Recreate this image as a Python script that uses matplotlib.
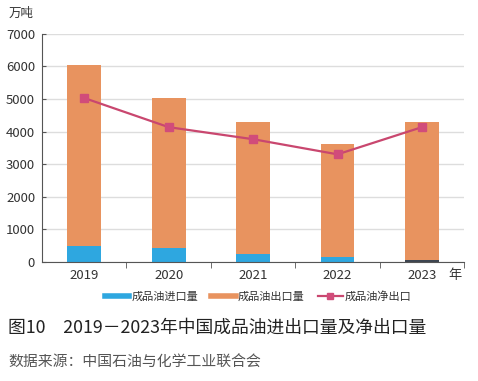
import numpy as np
import matplotlib.pyplot as plt
from matplotlib.lines import Line2D

plt.rcParams['font.family'] = ['Noto Sans CJK SC', 'DejaVu Sans']

years = ['2019', '2020', '2021', '2022', '2023']
imports = [485, 420, 247, 155, 50]
exports = [5575, 4600, 4053, 3475, 4230]
net = [5030, 4135, 3765, 3300, 4135]

blue = '#2ea7e0'
orange = '#e8935f'
pink = '#c9476f'
import_colors = [blue, blue, blue, blue, '#3d4550']

fig = plt.figure(figsize=(4.78, 3.81), dpi=100)
ax = fig.add_axes([0.088, 0.313, 0.883, 0.598])

x = np.arange(len(years))
ax.bar(x, imports, width=0.4, color=import_colors, zorder=2)
ax.bar(x, exports, width=0.4, bottom=imports, color=orange, zorder=2)
ax.plot(x, net, color=pink, lw=1.6, marker='s', ms=6,
        markerfacecolor='#d14c7a', markeredgecolor='#d14c7a', zorder=3)

ax.set_xlim(-0.5, 4.5)
ax.set_ylim(0, 7000)
ax.set_yticks(range(0, 7001, 1000))
ax.yaxis.grid(True, color='#dddddd', lw=1, zorder=0)
ax.set_axisbelow(True)

ax.set_xticks(x)
ax.set_xticklabels(years)
ax.set_xticks(np.arange(0.5, 4.6, 1), minor=True)
ax.tick_params(axis='x', which='major', length=0, pad=5, labelsize=9.5, colors='#333333')
ax.tick_params(axis='x', which='minor', length=4, direction='out', color='#555555')
ax.tick_params(axis='y', length=3, direction='in', pad=5, labelsize=9.5, colors='#333333', color='#555555')

for s in ['top', 'right']:
    ax.spines[s].set_visible(False)
ax.spines['left'].set_color('#555555')
ax.spines['bottom'].set_color('#555555')

fig.text(0.017, 0.965, '万吨', fontsize=9, color='#333333', va='center')
fig.text(0.937, 0.277, '年', fontsize=9.5, color='#333333', va='center')

handles = [
    Line2D([0], [0], color=blue, lw=4),
    Line2D([0], [0], color=orange, lw=4),
    Line2D([0], [0], color=pink, lw=1.6, marker='s', ms=5, markerfacecolor='#d14c7a', markeredgecolor='#d14c7a'),
]
labels = ['成品油进口量', '成品油出口量', '成品油净出口']
fig.legend(handles, labels, loc='center', bbox_to_anchor=(0.54, 0.222), ncol=3,
           frameon=False, fontsize=8, handlelength=2.2, handletextpad=0.2,
           columnspacing=1.2, labelcolor='#333333')

fig.text(0.017, 0.139, '图10　2019－2023年中国成品油进出口量及净出口量', fontsize=12.8,
         color='#222222', va='center')
fig.text(0.017, 0.047, '数据来源：中国石油与化学工业联合会', fontsize=10.7,
         color='#555555', va='center')

fig.savefig('out.png', dpi=100)
